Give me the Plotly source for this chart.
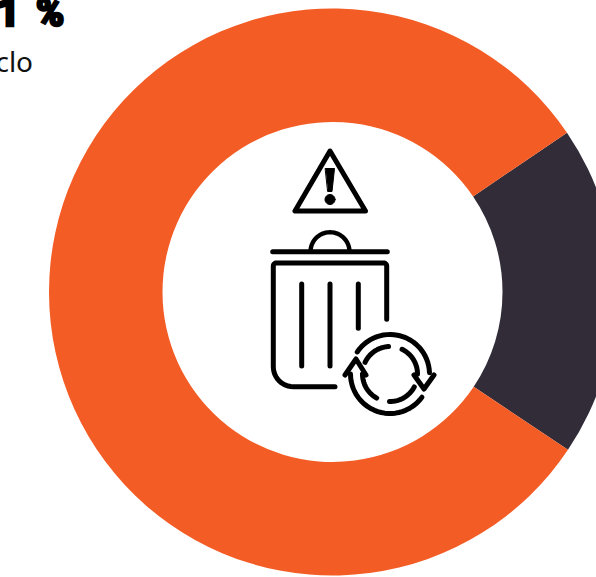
import math
import plotly.graph_objects as go

W, H = 664, 577
labels = ["Otros", "Reciclo"]
values = [18.9, 81.1]
colors = ["#322C38", "#F45C25"]
headline = "81 %"
caption = "reciclo"

CX, CY, R, RIN = 332.5, 292, 283.5, 170
ICON = "#000000"


def px(x):
    return x / W


def py(y):
    return 1 - y / H


def P(pts, close=False):
    s = "M" + " L".join(f"{px(x):.5f},{py(y):.5f}" for x, y in pts)
    return s + (" Z" if close else "")


def arc(cx, cy, r, a0, a1, n=28):
    return [(cx + r * math.cos(math.radians(a0 + (a1 - a0) * i / n)),
             cy - r * math.sin(math.radians(a0 + (a1 - a0) * i / n))) for i in range(n + 1)]


def stroke(pts, w=5, close=False):
    return dict(type="path", xref="paper", yref="paper", path=P(pts, close),
                line=dict(color=ICON, width=w), layer="above")


def fill(pts):
    return dict(type="path", xref="paper", yref="paper", path=P(pts, True),
                fillcolor=ICON, line=dict(color=ICON, width=1), layer="above")


shapes = [
    # warning triangle
    stroke([(330, 151), (295, 211), (365.5, 211)], close=True),
    fill([(325.5, 168.5), (334.5, 168.5), (332, 191.5), (328, 191.5)]),
    fill(arc(330, 199.5, 5, 0, 360)),
    # lid
    stroke([(272.7, 251.7), (387.3, 251.7)]),
    stroke(arc(330, 251.7, 19.5, 0, 180), w=4.4),
    # can
    stroke([(386.7, 319.3), (386.7, 266)] + arc(383.7, 266, 3, 0, 90, 6) + arc(276.3, 266, 3, 90, 180, 6)
           + arc(293.3, 366.7, 20, 180, 270, 12) + [(335, 386.7)]),
    stroke([(301.7, 284), (301.7, 366)]),
    stroke([(330, 284), (330, 366)]),
    stroke([(358.3, 284), (358.3, 328.3)]),
    # recycling symbol
    stroke(arc(390, 374, 39.5, 146, 2)),
    stroke(arc(390, 374, 39.5, -36, -180)),
    stroke(arc(390, 374, 27.5, 155, 93)),
    stroke(arc(390, 374, 27.5, 64, 0)),
    stroke(arc(390, 374, 27.5, -91, -28)),
    stroke(arc(390, 374, 27.5, 180, 241)),
    stroke([(414, 375), (424, 389), (434, 375)]),
    stroke([(345, 375), (356, 359), (366, 375)]),
]

fig = go.Figure(go.Pie(
    labels=labels, values=values, hole=RIN / R, sort=False, direction="clockwise",
    rotation=55.8, textinfo="none", showlegend=False,
    marker=dict(colors=colors, line=dict(width=0)),
    domain=dict(x=[(CX - R) / W, (CX + R) / W], y=[1 - (CY + R) / H, 1 - (CY - R) / H]),
))

fig.update_layout(
    width=W, height=H, autosize=False, margin=dict(l=0, r=0, t=0, b=0),
    paper_bgcolor="white", plot_bgcolor="white", showlegend=False, shapes=shapes,
    annotations=[
        dict(text=headline, xref="paper", yref="paper", x=px(64), y=py(37), xanchor="right", yanchor="bottom",
             showarrow=False, font=dict(family="Roboto", size=38, color="#000000", weight=900)),
        dict(text=caption, xref="paper", yref="paper", x=px(35), y=py(61), xanchor="right", yanchor="middle",
             showarrow=False, font=dict(family="Noto Sans", size=28, color="#111111")),
    ],
)

fig.write_html("out.html", post_script="""
document.documentElement.style.overflow='hidden';
document.body.style.margin='0';
document.body.style.overflow='hidden';
document.querySelectorAll('.shapelayer path').forEach(function(p){
  p.style.strokeLinecap='round'; p.style.strokeLinejoin='round';
});
var t=document.querySelector('.annotation-text');
if(t){t.style.stroke='#000'; t.style.strokeWidth='2.5px'; t.style.wordSpacing='7px'; t.setAttribute('dx','-1');}
""")
